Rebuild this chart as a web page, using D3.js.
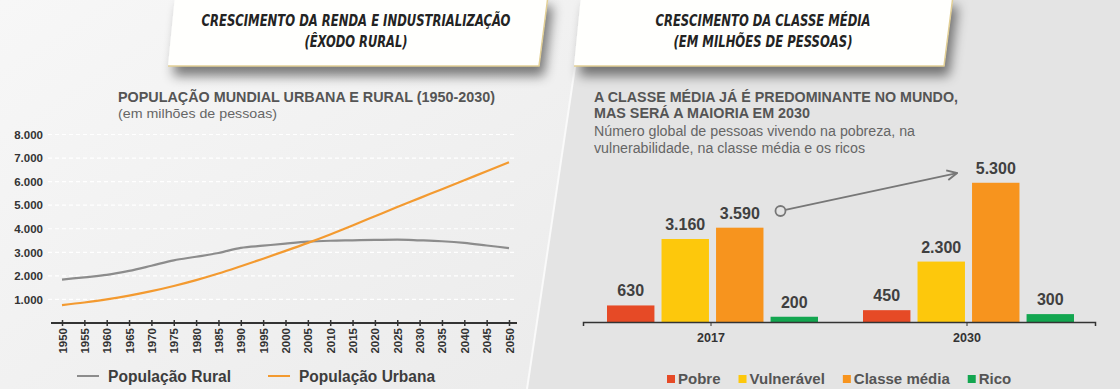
<!DOCTYPE html>
<html>
<head>
<meta charset="utf-8">
<script src="https://cdn.jsdelivr.net/npm/d3@7"></script>
<style>
  body { margin: 0; background: #e4e4e4; }
  svg { display: block; }
  text { font-family: "Liberation Sans", Arial, sans-serif; }
</style>
</head>
<body>
<svg id="chart"></svg>
<script>
// --- dados: população mundial (milhões)
const years = [1950, 1955, 1960, 1965, 1970, 1975, 1980, 1985, 1990, 1995, 2000,
               2005, 2010, 2015, 2020, 2025, 2030, 2035, 2040, 2045, 2050]
const rural = [1840, 1940, 2040, 2210, 2430, 2660, 2810, 2970, 3190, 3280, 3370,
               3450, 3490, 3510, 3530, 3540, 3510, 3470, 3400, 3290, 3180]
const urban = [760, 870, 1000, 1160, 1350, 1570, 1820, 2100, 2410, 2730, 3060,
               3400, 3760, 4140, 4530, 4920, 5300, 5680, 6060, 6440, 6820]
const yTicks = [1000, 2000, 3000, 4000, 5000, 6000, 7000, 8000]
const lineNames = ["População Rural", "População Urbana"]

// --- dados: classes de renda (milhões de pessoas)
const groups = ["2017", "2030"]
const classes = ["Pobre", "Vulnerável", "Classe média", "Rico"]
const values2017 = [630, 3160, 3590, 200]
const values2030 = [450, 2300, 5300, 300]

const classColors = ["#e64a26", "#fdc80c", "#f7941e", "#13a650"]
const ruralColor = "#8c8c8c"
const urbanColor = "#f39a30"

const fmt = d3.formatLocale({ decimal: ",", thousands: ".", grouping: [3], currency: ["R$", ""] }).format(",")

const W = 1120, H = 389
const svg = d3.select("#chart").attr("width", W).attr("height", H)
const defs = svg.append("defs")

// fundo
const lg = defs.append("linearGradient").attr("id", "leftBg")
  .attr("x1", 0).attr("y1", 0).attr("x2", 1).attr("y2", 1)
lg.append("stop").attr("offset", 0).attr("stop-color", "#f7f7f7")
lg.append("stop").attr("offset", 1).attr("stop-color", "#ebebeb")

svg.append("rect").attr("width", W).attr("height", H).attr("fill", "#e4e4e4")
svg.append("polygon")
  .attr("points", "0,0 585,0 527,389 0,389")
  .attr("fill", "url(#leftBg)")
svg.append("line")
  .attr("x1", 585).attr("y1", 0).attr("x2", 527).attr("y2", 389)
  .attr("stroke", "#fafafa").attr("stroke-width", 2)

// sombra dos cartões
const f = defs.append("filter").attr("id", "shadow")
  .attr("x", "-10%").attr("y", "-40%").attr("width", "130%").attr("height", "230%")
f.append("feGaussianBlur").attr("in", "SourceAlpha").attr("stdDeviation", 6)
f.append("feOffset").attr("dx", 5).attr("dy", 10).attr("result", "off")
f.append("feComponentTransfer").append("feFuncA").attr("type", "linear").attr("slope", 0.5)
const fm = f.append("feMerge")
fm.append("feMergeNode")
fm.append("feMergeNode").attr("in", "SourceGraphic")

const cards = [
  { pts: [[175, -4], [548, -4], [539, 66], [168, 66]], cx: 356, lines: ["CRESCIMENTO DA RENDA E INDUSTRIALIZAÇÃO", "(ÊXODO RURAL)"], w: [309, 103] },
  { pts: [[581, -4], [953, -4], [944, 66], [574, 66]], cx: 763, lines: ["CRESCIMENTO DA CLASSE MÉDIA", "(EM MILHÕES DE PESSOAS)"], w: [215, 179] }
]
cards.forEach(c => {
  svg.append("polygon")
    .attr("points", c.pts.map(p => p.join(",")).join(" "))
    .attr("fill", "#fffffd")
    .attr("filter", "url(#shadow)")
  svg.append("path")
    .attr("d", d3.line()([c.pts[3], c.pts[2], c.pts[1]]))
    .attr("fill", "none").attr("stroke", "#e2cf95").attr("stroke-width", 1.5)
  c.lines.forEach((t, i) => {
    svg.append("text")
      .attr("x", c.cx).attr("y", 26 + i * 21)
      .attr("text-anchor", "middle")
      .attr("font-size", 16).attr("font-weight", "bold").attr("font-style", "italic")
      .attr("fill", "#232323")
      .attr("textLength", c.w[i]).attr("lengthAdjust", "spacingAndGlyphs")
      .style("font-family", "'Liberation Sans Narrow', 'DejaVu Sans Condensed', sans-serif")
      .text(t)
  })
})

// ================= gráfico de linhas =================
const x = d3.scaleLinear().domain([1950, 2050]).range([62, 509])
const y = d3.scaleLinear().domain([0, 8000]).range([323, 134.5])

svg.append("text").attr("x", 118).attr("y", 102)
  .attr("font-size", 14).attr("font-weight", "bold").attr("fill", "#555")
  .attr("textLength", 377).attr("lengthAdjust", "spacingAndGlyphs")
  .text("POPULAÇÃO MUNDIAL URBANA E RURAL (1950-2030)")
svg.append("text").attr("x", 118).attr("y", 118)
  .attr("font-size", 13.5).attr("fill", "#666")
  .attr("textLength", 159).attr("lengthAdjust", "spacingAndGlyphs")
  .text("(em milhões de pessoas)")

// grade
svg.append("g").selectAll("line").data(yTicks).join("line")
  .attr("x1", 48).attr("x2", 514)
  .attr("y1", d => y(d)).attr("y2", d => y(d))
  .attr("stroke", "#ffffff").attr("stroke-width", 1.2).attr("stroke-dasharray", "4,3")

const yAxis = svg.append("g").attr("transform", "translate(43,0)")
  .call(d3.axisLeft(y).tickValues(yTicks).tickFormat(fmt).tickSize(0).tickPadding(0))
yAxis.select(".domain").remove()
yAxis.selectAll("text").attr("font-size", 11.5).attr("font-weight", "bold").attr("fill", "#333")
  .style("font-family", "'Liberation Sans', Arial, sans-serif")

const xAxis = svg.append("g").attr("transform", "translate(0,323)")
  .call(d3.axisBottom(x).tickValues(years).tickFormat(d3.format("d")).tickSizeOuter(0))
xAxis.select(".domain").remove()
xAxis.append("line").attr("x1", 51).attr("x2", 517)
  .attr("stroke", "#333").attr("stroke-width", 2)
xAxis.selectAll(".tick line").attr("y1", -3).attr("y2", 3).attr("stroke", "#333").attr("stroke-width", 1.5)
xAxis.selectAll(".tick text")
  .attr("transform", "rotate(-90)")
  .attr("x", -5).attr("y", 0).attr("dy", "0.35em")
  .attr("text-anchor", "end")
  .attr("font-size", 11.5).attr("font-weight", "bold").attr("fill", "#333")
  .style("font-family", "'Liberation Sans', Arial, sans-serif")

const line = d3.line().x((d, i) => x(years[i])).y(d => y(d)).curve(d3.curveMonotoneX)
svg.append("path").datum(rural).attr("d", line)
  .attr("fill", "none").attr("stroke", ruralColor).attr("stroke-width", 2.2)
svg.append("path").datum(urban).attr("d", line)
  .attr("fill", "none").attr("stroke", urbanColor).attr("stroke-width", 2.2)

// legenda esquerda
const legL = [
  { name: lineNames[0], color: ruralColor, x: 77, w: 123 },
  { name: lineNames[1], color: urbanColor, x: 268, w: 136 }
]
legL.forEach(d => {
  svg.append("line").attr("x1", d.x).attr("x2", d.x + 22).attr("y1", 376).attr("y2", 376)
    .attr("stroke", d.color).attr("stroke-width", 2)
  svg.append("text").attr("x", d.x + 31).attr("y", 382)
    .attr("font-size", 16).attr("font-weight", "bold").attr("fill", "#3d3d3d")
    .attr("textLength", d.w).attr("lengthAdjust", "spacingAndGlyphs")
    .text(d.name)
})

// ================= gráfico de barras =================
svg.append("text").attr("x", 594).attr("y", 102)
  .attr("font-size", 14.5).attr("font-weight", "bold").attr("fill", "#555")
  .attr("textLength", 364).attr("lengthAdjust", "spacingAndGlyphs")
  .text("A CLASSE MÉDIA JÁ É PREDOMINANTE NO MUNDO,")
svg.append("text").attr("x", 594).attr("y", 118)
  .attr("font-size", 14.5).attr("font-weight", "bold").attr("fill", "#555")
  .attr("textLength", 216).attr("lengthAdjust", "spacingAndGlyphs")
  .text("MAS SERÁ A MAIORIA EM 2030")
svg.append("text").attr("x", 594).attr("y", 136)
  .attr("font-size", 14).attr("fill", "#666")
  .attr("textLength", 321).attr("lengthAdjust", "spacingAndGlyphs")
  .text("Número global de pessoas vivendo na pobreza, na")
svg.append("text").attr("x", 594).attr("y", 153)
  .attr("font-size", 14).attr("fill", "#666")
  .attr("textLength", 271).attr("lengthAdjust", "spacingAndGlyphs")
  .text("vulnerabilidade, na classe média e os ricos")

const x0 = d3.scaleBand().domain(groups).range([583, 1095])
const x1 = d3.scaleBand().domain(classes).range([24, 235]).paddingInner(0.13)
const yb = d3.scaleLinear().domain([0, 6000]).range([322, 322 - 6000 * 0.02627])

const barData = groups.flatMap((g, gi) => {
  const vals = gi === 0 ? values2017 : values2030
  return classes.map((c, ci) => ({ g, c, v: vals[ci], color: classColors[ci] }))
})

svg.append("g").selectAll("rect").data(barData).join("rect")
  .attr("x", d => x0(d.g) + x1(d.c))
  .attr("width", x1.bandwidth())
  .attr("y", d => yb(d.v))
  .attr("height", d => yb(0) - yb(d.v))
  .attr("fill", d => d.color)

svg.append("g").selectAll("text").data(barData).join("text")
  .attr("x", d => x0(d.g) + x1(d.c) + x1.bandwidth() / 2)
  .attr("y", d => yb(d.v) - 9)
  .attr("text-anchor", "middle")
  .attr("font-size", 16).attr("font-weight", "bold").attr("fill", "#404040")
  .text(d => fmt(d.v))

const bAxis = svg.append("g").attr("transform", "translate(0,322)")
  .call(d3.axisBottom(x0).tickSize(4).tickSizeOuter(4).tickPadding(7))
bAxis.select(".domain").attr("stroke", "#333").attr("stroke-width", 1.5)
bAxis.selectAll(".tick line").attr("stroke", "#333")
bAxis.selectAll("text").attr("font-size", 12.5).attr("font-weight", "bold").attr("fill", "#333")
  .style("font-family", "'Liberation Sans', Arial, sans-serif")

// seta de destaque
defs.append("marker").attr("id", "arrow")
  .attr("viewBox", "0 0 12 12").attr("refX", 11).attr("refY", 6)
  .attr("markerWidth", 12).attr("markerHeight", 12).attr("markerUnits", "userSpaceOnUse")
  .attr("orient", "auto")
  .append("path").attr("d", "M1,1 L11,6 L1,11").attr("fill", "none")
  .attr("stroke", "#777").attr("stroke-width", 1.8)

const ax0 = x0("2017") + x1("Classe média") + x1.bandwidth() + 17
const ay0 = yb(4225)
const ax1 = x0("2030") + x1("Classe média") - 15
const ay1 = yb(5670)
const ang = Math.atan2(ay1 - ay0, ax1 - ax0)
svg.append("line")
  .attr("x1", ax0 + 5 * Math.cos(ang)).attr("y1", ay0 + 5 * Math.sin(ang))
  .attr("x2", ax1).attr("y2", ay1)
  .attr("stroke", "#777").attr("stroke-width", 1.8)
  .attr("marker-end", "url(#arrow)")
svg.append("circle").attr("cx", ax0).attr("cy", ay0).attr("r", 5)
  .attr("fill", "none").attr("stroke", "#777").attr("stroke-width", 1.8)

// legenda direita
const legR = svg.append("g")
let lx = 667
classes.forEach((c, i) => {
  legR.append("rect").attr("x", lx).attr("y", 375).attr("width", 8).attr("height", 8)
    .attr("fill", classColors[i])
  const t = legR.append("text").attr("x", lx + 11).attr("y", 384)
    .attr("font-size", 15).attr("font-weight", "bold").attr("fill", "#555")
    .text(c)
  lx += 11 + t.node().getComputedTextLength() + 18
})
</script>
</body>
</html>
